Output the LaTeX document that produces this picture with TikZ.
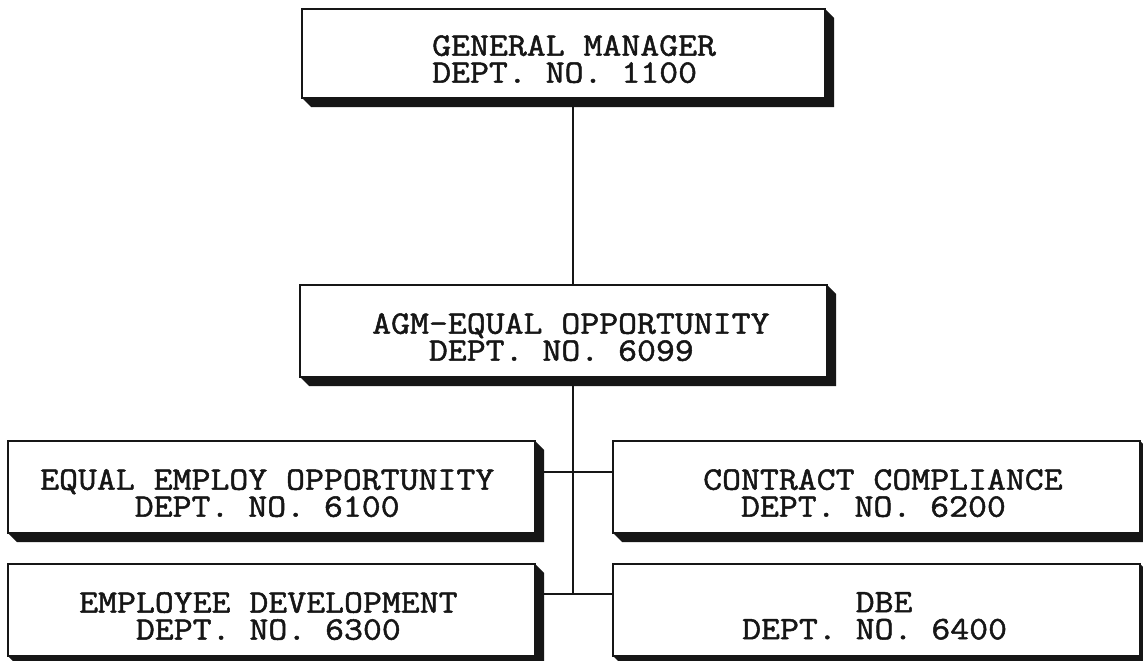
\documentclass[tikz,border=0pt]{standalone}
\usepackage{fontspec}
\usetikzlibrary{calc}
\newfontfamily\orgfont{Latin Modern Mono}[FakeBold=1.5, FakeStretch=1.12]
\definecolor{ink}{RGB}{22,22,22}
\newcommand{\chars}[1]{\hphantom{#1}}
\tikzset{
  orgbox/.style={draw=ink, line width=2.6pt, fill=white, rectangle,
                 inner sep=0pt, outer sep=0pt, anchor=north west,
                 minimum width=527pt, minimum height=92pt},
  % two typed lines; the anchor sits at the cap top of the first line
  linktxt/.style={anchor=north west, inner sep=0pt, align=left,
                  font=\orgfont\fontsize{32.8}{27}\selectfont, text=ink},
  wire/.style={draw=ink, line width=2pt},
}
% drop shadow drawn as an extrusion of depth 9 to the lower right
\newcommand{\boxshadow}[1]{%
  \fill[ink] (#1.south west) -- ++(9,9) -- ($(#1.south east)+(9,9)$)
    -- ($(#1.north east)+(9,9)$) -- (#1.north east) -- (#1.south east) -- cycle;}
\begin{document}
\begin{tikzpicture}[x=1pt,y=-1pt]
\useasboundingbox (0,0) rectangle (1143,661);
\fill[white] (0,0) rectangle (1143,661);

% reference coordinates for the connector spine and the two branch rows
\coordinate (spine) at (573,0);
\coordinate (row1) at (0,472);
\coordinate (row2) at (0,594);

% department boxes
\node[orgbox, minimum width=523pt, minimum height=89pt] (gm) at (302,9) {};
\node[orgbox] (agm) at (300,285) {};
\node[orgbox] (eeo) at (8,441) {};
\node[orgbox] (cc)  at (613,441) {};
\node[orgbox] (ed)  at (8,564) {};
\node[orgbox] (dbe) at (613,564) {};

% connectors
\draw[wire] (gm.south -| spine) -- (agm.north -| spine);
\draw[wire] (agm.south -| spine) -- (spine |- row2);
\draw[wire] (eeo.east |- row1) -- (cc.west |- row1);
\draw[wire] (ed.east |- row2) -- (dbe.west |- row2);

\foreach \b in {gm,agm,eeo,cc,ed,dbe} {\boxshadow{\b}}

% box labels
\node[linktxt] (gmtxt)  at (432,35)  {GENERAL MANAGER\\DEPT. NO. 1100};
\node[linktxt] (agmtxt) at (372,313) {AGM-EQUAL OPPORTUNITY\\\chars{XXX}DEPT. NO. 6099};
\node[linktxt] (eeotxt) at (40,469)  {EQUAL EMPLOY OPPORTUNITY\\\chars{XXXXX}DEPT. NO. 6100};
\node[linktxt] (cctxt)  at (703,469) {CONTRACT COMPLIANCE\\\chars{XX}DEPT. NO. 6200};
\node[linktxt] (edtxt)  at (79,592)  {EMPLOYEE DEVELOPMENT\\\chars{XXX}DEPT. NO. 6300};
\node[linktxt] (dbetxt) at (742,592) {\chars{XXXXXX}DBE\\DEPT. NO. 6400};
\end{tikzpicture}
\end{document}
